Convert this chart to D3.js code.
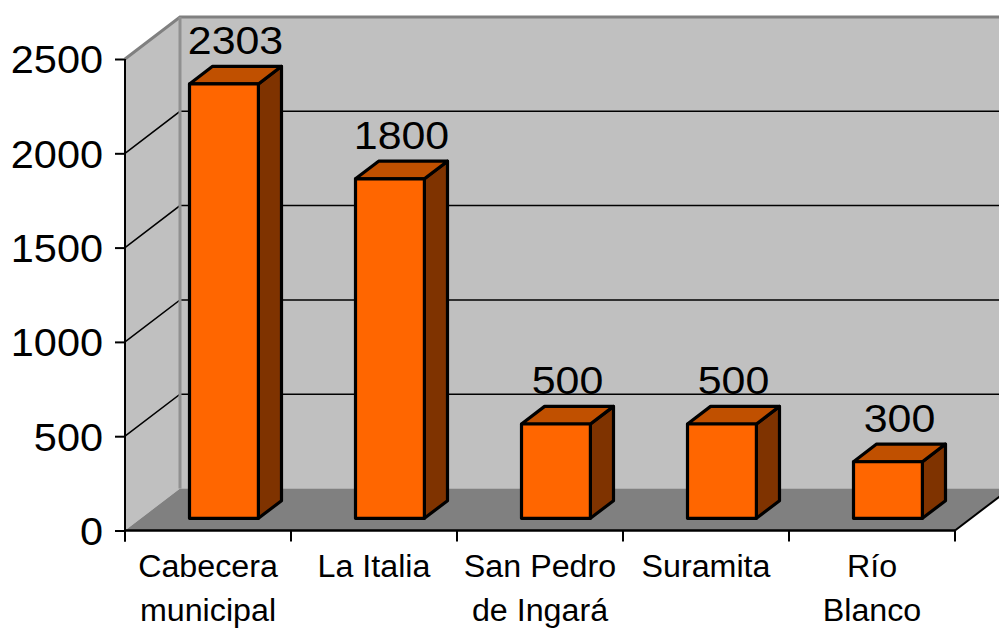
<!DOCTYPE html>
<html>
<head>
<meta charset="utf-8">
<script src="https://cdn.jsdelivr.net/npm/d3@7/dist/d3.min.js"></script>
<style>
  body { margin: 0; background: #fff; }
  svg { display: block; font-family: "Liberation Sans", Arial, sans-serif; }
</style>
</head>
<body>
<svg width="999" height="632"></svg>
<script>
// data
const categories = ['Cabecera municipal', 'La Italia', 'San Pedro de Ingará', 'Suramita', 'Río Blanco'];
const labelLines = [['Cabecera', 'municipal'], ['La Italia'], ['San Pedro', 'de Ingará'], ['Suramita'], ['Río', 'Blanco']];
const values = [2303, 1800, 500, 500, 300];
const yTicks = [0, 500, 1000, 1500, 2000, 2500];

const svg = d3.select('svg');

// depth of the 3d box (pixels) and where the bars sit inside it
const DX = 55, DY = 42;
const z0 = 0.29, z1 = 0.71;

const x = d3.scaleBand().domain(categories).range([125, 955]).padding(0);
const y = d3.scaleLinear().domain([0, 2500]).range([530.5, 59]);

// project a scene point at depth z (0 = front, 1 = back wall)
const P = (px, py, z) => [px + z * DX, py - z * DY];
const poly = pts => 'M' + pts.map(p => p.join(',')).join('L') + 'Z';

const left = x.range()[0], right = x.range()[1];
const y0 = y(0), yTop = y(2500);

// side wall
svg.append('path')
  .attr('d', poly([P(left, y0, 0), P(left, yTop, 0), P(left, yTop, 1), P(left, y0, 1)]))
  .attr('fill', '#c0c0c0');
// back wall
svg.append('path')
  .attr('d', poly([P(left, yTop, 1), P(right, yTop, 1), P(right, y0, 1), P(left, y0, 1)]))
  .attr('fill', '#c0c0c0');
// floor
svg.append('path')
  .attr('d', poly([P(left, y0, 0), P(left, y0, 1), P(right, y0, 1), P(right, y0, 0)]))
  .attr('fill', '#808080');

// gridlines on side and back walls
const grid = svg.append('g');
yTicks.filter(t => t > 0 && t < 2500).forEach(t => {
  const a = P(left, y(t), 0), b = P(left, y(t), 1), c = P(right, y(t), 1);
  grid.append('path')
    .attr('d', 'M' + a + 'L' + b + 'L' + c)
    .attr('fill', 'none').attr('stroke', '#000').attr('stroke-width', 1.5);
});

// wall edges (grey)
svg.append('path')
  .attr('d', 'M' + P(left, yTop, 0) + 'L' + P(left, yTop, 1) + 'L' + P(right, yTop, 1))
  .attr('fill', 'none').attr('stroke', '#808080').attr('stroke-width', 3);
svg.append('path')
  .attr('d', 'M' + P(left, yTop, 1) + 'L' + P(left, y0, 1))
  .attr('fill', 'none').attr('stroke', '#909090').attr('stroke-width', 3);

// floor right edge
svg.append('path')
  .attr('d', 'M' + P(right, y0, 0) + 'L' + P(right, y0, 1))
  .attr('stroke', '#000').attr('stroke-width', 2);

// bars
const bw = x.bandwidth() * 0.415;
const bars = svg.append('g').selectAll('g')
  .data(values)
  .join('g');

bars.each(function(v, i) {
  const g = d3.select(this);
  const cx = x(categories[i]) + x.bandwidth() / 2;
  const xl = cx - bw / 2, xr = cx + bw / 2;
  const yb = y(0), yt = y(v);
  const edge = { stroke: '#000', 'stroke-width': 3.2, 'stroke-linejoin': 'round' };
  const faces = [
    { d: [P(xr, yb, z0), P(xr, yt, z0), P(xr, yt, z1), P(xr, yb, z1)], fill: '#7f3300' },
    { d: [P(xl, yt, z0), P(xl, yt, z1), P(xr, yt, z1), P(xr, yt, z0)], fill: '#c05000' },
    { d: [P(xl, yb, z0), P(xl, yt, z0), P(xr, yt, z0), P(xr, yb, z0)], fill: '#ff6600' }
  ];
  faces.forEach(f => {
    const p = g.append('path').attr('d', poly(f.d)).attr('fill', f.fill);
    Object.entries(edge).forEach(([k, val]) => p.attr(k, val));
  });
  const lp = P(cx, yt, (z0 + z1) / 2);
  g.append('text')
    .attr('transform', `translate(${lp[0]},${yt - z1 * DY - 12}) scale(1.1,1)`)
    .attr('text-anchor', 'middle')
    .attr('font-size', 39)
    .attr('fill', '#000')
    .text(v);
});

// y axis
const yAxis = svg.append('g').attr('transform', `translate(${left},0)`)
  .call(d3.axisLeft(y).tickValues(yTicks).tickSize(10).tickSizeOuter(0).tickFormat(d3.format('d')));
yAxis.select('.domain').attr('d', `M0,${yTop}V${y0 + 11}`).attr('stroke', '#000').attr('stroke-width', 2);
yAxis.selectAll('.tick line').attr('stroke', '#000').attr('stroke-width', 2);
yAxis.selectAll('.tick text')
  .attr('x', null)
  .attr('transform', 'translate(-22,0) scale(1.05,1)')
  .attr('dy', '0.35em')
  .attr('font-size', 39.5).attr('font-family', '"Liberation Sans", Arial, sans-serif')
  .attr('fill', '#000');

// x axis
const xAxis = svg.append('g').attr('transform', `translate(0,${y0})`);
xAxis.append('path')
  .attr('d', `M${left},0H${right}`)
  .attr('stroke', '#000').attr('stroke-width', 2.5);
xAxis.selectAll('line.sep')
  .data(categories.concat(['end']))
  .join('line')
  .attr('class', 'sep')
  .attr('x1', (d, i) => i < categories.length ? x(d) : right)
  .attr('x2', (d, i) => i < categories.length ? x(d) : right)
  .attr('y1', 0).attr('y2', 11)
  .attr('stroke', '#000').attr('stroke-width', 2);

const xl = xAxis.selectAll('text.cat')
  .data(categories)
  .join('text')
  .attr('class', 'cat')
  .attr('text-anchor', 'middle')
  .attr('font-size', 31)
  .attr('fill', '#000')
  .attr('transform', d => `translate(${x(d) + x.bandwidth() / 2},0) scale(1.04,1)`);
xl.each(function(d, i) {
  d3.select(this).selectAll('tspan')
    .data(labelLines[i])
    .join('tspan')
    .attr('x', 0)
    .attr('y', (t, j) => 47 + j * 44)
    .text(t => t);
});
</script>
</body>
</html>
